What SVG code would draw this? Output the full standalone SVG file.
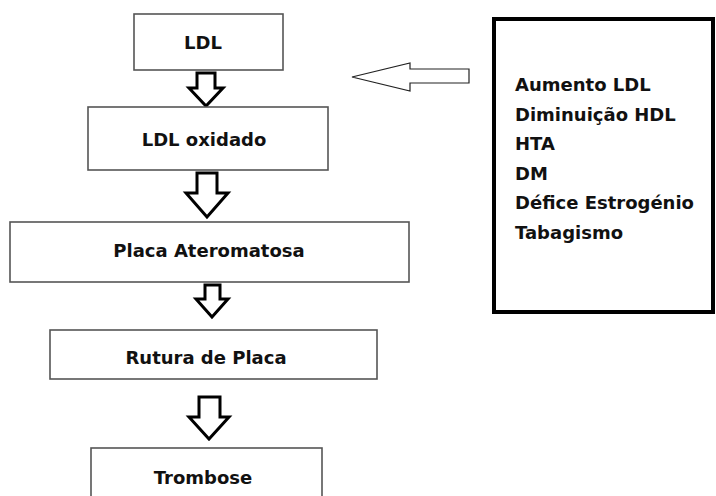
<svg xmlns="http://www.w3.org/2000/svg" width="716" height="496" viewBox="0 0 716 496">
<style>
.box{fill:#fff;stroke:#555;stroke-width:1.6}
.t{font-family:"DejaVu Sans",Verdana,sans-serif;font-weight:bold;font-size:18px;fill:#111}
.c{text-anchor:middle}
.da{fill:#fff;stroke:#000;stroke-width:3;stroke-linejoin:miter}
.la{fill:#fff;stroke:#222;stroke-width:1.2}
</style>
<rect width="716" height="496" fill="#fff"/>
<g id="connectors">
<polygon class="da" points="197,73 215,73 215,88 223,88 206,106 189,88 197,88"/>
<polygon class="da" points="197,173 217,173 217,193 228,193 207,217 186,193 197,193"/>
<polygon class="da" points="205,285 220,285 220,299 228,299 212,317 196,299 205,299"/>
<polygon class="da" points="199,397 220,397 220,417 229,417 209,439 189,417 199,417"/>
<polygon class="la" points="469,69 410,69 410,63 352,77 410,91 410,83 469,83"/>
</g>
<g id="n-ldl">
<rect class="box" x="134" y="14" width="149" height="56"/>
<text class="t c" x="203" y="49">LDL</text>
</g>
<g id="n-ldl-oxidado">
<rect class="box" x="88" y="107" width="240" height="63"/>
<text class="t c" x="204" y="146">LDL oxidado</text>
</g>
<g id="n-placa">
<rect class="box" x="10" y="222" width="399" height="60"/>
<text class="t c" x="209" y="257">Placa Ateromatosa</text>
</g>
<g id="n-rutura">
<rect class="box" x="50" y="330" width="327" height="49"/>
<text class="t c" x="206" y="364">Rutura de Placa</text>
</g>
<g id="n-trombose">
<rect class="box" x="91" y="448" width="231" height="60"/>
<text class="t c" x="203" y="484">Trombose</text>
</g>
<g id="n-fatores">
<rect x="494" y="19" width="219" height="293" fill="#fff" stroke="#000" stroke-width="4"/>
<text class="t" x="515" y="91">Aumento LDL</text>
<text class="t" x="515" y="120.5">Diminuição HDL</text>
<text class="t" x="515" y="150">HTA</text>
<text class="t" x="515" y="179.5">DM</text>
<text class="t" x="515" y="209">Défice Estrogénio</text>
<text class="t" x="515" y="238.5">Tabagismo</text>
</g>
</svg>
